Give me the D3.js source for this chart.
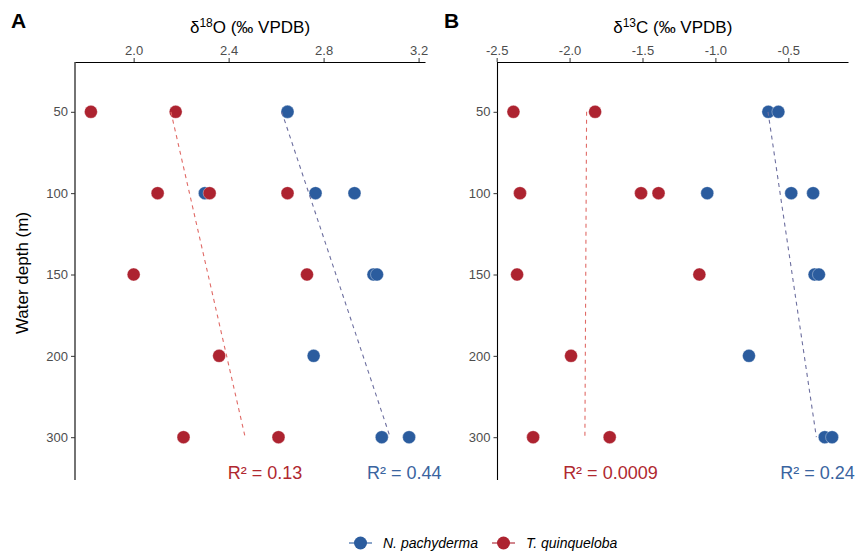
<!DOCTYPE html>
<html>
<head>
<meta charset="utf-8">
<script src="https://cdn.jsdelivr.net/npm/d3@7"></script>
<style>
  body { margin: 0; background: #fff; }
  svg { font-family: "Liberation Sans", Arial, sans-serif; }
</style>
</head>
<body>
<svg id="chart" width="859" height="553"></svg>
<script>
// 水深类别（离散坐标）
const depths = ["50", "100", "150", "200", "300"];

// N. pachyderma
const npDepth = ["50", "50", "100", "100", "100", "150", "150", "200", "300", "300"];
const npD18O  = [2.648, 2.648, 2.30, 2.766, 2.93, 3.01, 3.025, 2.758, 3.045, 3.16];
const npD13C  = [-0.637, -0.568, -1.056, -0.48, -0.33, -0.32, -0.29, -0.77, -0.25, -0.20];

// T. quinqueloba
const tqDepth = ["50", "50", "100", "100", "100", "150", "150", "200", "300", "300"];
const tqD18O  = [1.82, 2.177, 2.101, 2.32, 2.648, 2.00, 2.73, 2.36, 2.21, 2.61];
const tqD13C  = [-2.385, -1.825, -2.34, -1.51, -1.39, -2.36, -1.11, -1.99, -2.25, -1.725];

// R² 标注
const r2A = ["0.13", "0.44"];   // [T. quinqueloba, N. pachyderma]
const r2B = ["0.0009", "0.24"];

const xTicksA = [2.0, 2.4, 2.8, 3.2];
const xTicksB = [-2.5, -2.0, -1.5, -1.0, -0.5];

const speciesNames = ["N. pachyderma", "T. quinqueloba"];

const colBlue = "#2b5c9e";
const colRed = "#ad2330";
const lineBlue = "#6d6f9f";
const lineRed = "#e06a66";

const svg = d3.select("#chart");

const plotTop = 62, plotBottom = 486;

const y = d3.scalePoint()
  .domain(depths)
  .range([plotTop + 1, plotBottom])
  .padding(0.6);

// 线性回归 x ~ 深度序号
function fitLine(depthArr, xArr) {
  const idx = depthArr.map(d => depths.indexOf(d));
  const mi = d3.mean(idx), mx = d3.mean(xArr);
  let sxy = 0, sxx = 0;
  idx.forEach((v, k) => {
    sxy += (v - mi) * (xArr[k] - mx);
    sxx += (v - mi) * (v - mi);
  });
  const b = sxy / sxx;
  const i0 = d3.min(idx), i1 = d3.max(idx);
  return [
    { x: mx + b * (i0 - mi), y: depths[i0] },
    { x: mx + b * (i1 - mi), y: depths[i1] }
  ];
}

function drawPanel(opt) {
  const g = svg.append("g");

  // 5% 扩展，与 ggplot 默认一致
  const all = opt.np.concat(opt.tq);
  const ext = d3.extent(all);
  const pad = (ext[1] - ext[0]) * 0.05;
  const x = d3.scaleLinear()
    .domain([ext[0] - pad, ext[1] + pad])
    .range([opt.left, opt.right]);

  // 顶部 x 轴
  const xAxis = g.append("g")
    .attr("transform", `translate(0,${plotTop})`)
    .call(d3.axisTop(x).tickValues(opt.ticks).tickSize(4).tickPadding(3).tickSizeOuter(0));
  xAxis.select(".domain").attr("stroke", "#000").attr("stroke-width", 1.1);
  xAxis.selectAll(".tick line").attr("stroke", "#333");
  xAxis.selectAll(".tick text")
    .attr("fill", "#4d4d4d")
    .style("font-size", "13px")
    .text(d => d3.format(".1f")(d).replace("−", "-"));

  // 左侧 y 轴
  const yAxis = g.append("g")
    .attr("transform", `translate(${opt.left},0)`)
    .call(d3.axisLeft(y).tickSize(4).tickSizeOuter(0));
  yAxis.select(".domain").attr("stroke", "#000").attr("stroke-width", 1.1)
    .attr("d", `M0,${plotTop}V${plotBottom - 6}`);
  yAxis.selectAll(".tick line").attr("stroke", "#333");
  yAxis.selectAll(".tick text")
    .attr("fill", "#4d4d4d")
    .style("font-size", "13px");

  // 轴标题
  const title = g.append("text")
    .attr("x", (opt.left + opt.right) / 2)
    .attr("y", 33)
    .attr("text-anchor", "middle")
    .style("font-size", "17px")
    .attr("fill", "#000");
  title.append("tspan").text("δ");
  title.append("tspan").attr("dy", -6).style("font-size", "12px").text(opt.sup);
  title.append("tspan").attr("dy", 6).text(opt.elem + " (‰ VPDB)");

  // 面板字母
  g.append("text")
    .attr("x", opt.letterX)
    .attr("y", 28)
    .style("font-size", "21px")
    .style("font-weight", "bold")
    .text(opt.letter);

  // 散点：先蓝后红
  g.selectAll(".np")
    .data(opt.np)
    .enter()
    .append("circle")
    .attr("cx", d => x(d))
    .attr("cy", (d, i) => y(npDepth[i]))
    .attr("r", 6.5)
    .attr("fill", colBlue)
    .attr("stroke", "#fff")
    .attr("stroke-opacity", 0.6)
    .attr("stroke-width", 0.6);

  g.selectAll(".tq")
    .data(opt.tq)
    .enter()
    .append("circle")
    .attr("cx", d => x(d))
    .attr("cy", (d, i) => y(tqDepth[i]))
    .attr("r", 6.5)
    .attr("fill", colRed)
    .attr("stroke", "#fff")
    .attr("stroke-opacity", 0.6)
    .attr("stroke-width", 0.6);

  // 回归虚线
  const line = d3.line().x(d => x(d.x)).y(d => y(d.y));
  g.append("path")
    .datum(fitLine(tqDepth, opt.tq))
    .attr("d", line)
    .attr("fill", "none")
    .attr("stroke", lineRed)
    .attr("stroke-width", 1.1)
    .attr("stroke-dasharray", "4,4");
  g.append("path")
    .datum(fitLine(npDepth, opt.np))
    .attr("d", line)
    .attr("fill", "none")
    .attr("stroke", lineBlue)
    .attr("stroke-width", 1.1)
    .attr("stroke-dasharray", "4,4");

  // R² 标注
  g.append("text")
    .attr("x", x(opt.labelX[0]))
    .attr("y", 479)
    .attr("text-anchor", "middle")
    .attr("fill", "#b0282f")
    .style("font-size", "18px")
    .text("R² = " + opt.r2[0]);
  g.append("text")
    .attr("x", x(opt.labelX[1]))
    .attr("y", 479)
    .attr("text-anchor", "middle")
    .attr("fill", "#3a64a0")
    .style("font-size", "18px")
    .text("R² = " + opt.r2[1]);
}

drawPanel({
  left: 75, right: 425, letter: "A", letterX: 11,
  sup: "18", elem: "O",
  np: npD18O, tq: tqD18O, ticks: xTicksA,
  r2: r2A, labelX: [2.553, 3.14]
});

drawPanel({
  left: 497.5, right: 848, letter: "B", letterX: 444,
  sup: "13", elem: "C",
  np: npD13C, tq: tqD13C, ticks: xTicksB,
  r2: r2B, labelX: [-1.72, -0.30]
});

// y 轴标题
svg.append("text")
  .attr("transform", "translate(28,273) rotate(-90)")
  .attr("text-anchor", "middle")
  .style("font-size", "17px")
  .text("Water depth (m)");

// 图例
const legend = svg.append("g").attr("transform", "translate(0,543)");
const legendItems = [
  { name: speciesNames[0], color: colBlue, x: 349 },
  { name: speciesNames[1], color: colRed, x: 492 }
];
legendItems.forEach(item => {
  legend.append("line")
    .attr("x1", item.x).attr("x2", item.x + 23)
    .attr("y1", 0).attr("y2", 0)
    .attr("stroke", item.color)
    .attr("stroke-width", 1.1);
  legend.append("circle")
    .attr("cx", item.x + 11.5).attr("cy", 0)
    .attr("r", 6.5)
    .attr("fill", item.color);
  legend.append("text")
    .attr("x", item.x + 34)
    .attr("y", 5)
    .style("font-size", "14px")
    .style("font-style", "italic")
    .text(item.name);
});
</script>
</body>
</html>
